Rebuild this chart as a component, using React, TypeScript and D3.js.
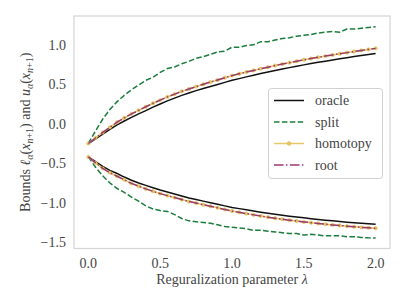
import React from "react";
import * as d3 from "d3";

// lambda grid 0 .. 2 step 0.05
const lambdas = [
  0.0, 0.05, 0.1, 0.15, 0.2, 0.25, 0.3, 0.35, 0.4, 0.45, 0.5, 0.55, 0.6, 0.65,
  0.7, 0.75, 0.8, 0.85, 0.9, 0.95, 1.0, 1.05, 1.1, 1.15, 1.2, 1.25, 1.3, 1.35,
  1.4, 1.45, 1.5, 1.55, 1.6, 1.65, 1.7, 1.75, 1.8, 1.85, 1.9, 1.95, 2.0,
];

const oracleUp = [
  -0.25, -0.19, -0.13, -0.07, -0.015, 0.035, 0.08, 0.125, 0.167, 0.21, 0.25,
  0.29, 0.325, 0.36, 0.39, 0.42, 0.447, 0.473, 0.498, 0.524, 0.55, 0.572,
  0.594, 0.615, 0.636, 0.655, 0.675, 0.693, 0.711, 0.729, 0.746, 0.762, 0.778,
  0.793, 0.808, 0.823, 0.837, 0.851, 0.864, 0.877, 0.89,
];
const oracleLow = [
  -0.42, -0.48, -0.54, -0.59, -0.63, -0.675, -0.715, -0.75, -0.78, -0.81,
  -0.84, -0.865, -0.89, -0.915, -0.94, -0.96, -0.98, -1.0, -1.02, -1.04, -1.06,
  -1.075, -1.09, -1.105, -1.12, -1.133, -1.146, -1.158, -1.17, -1.181, -1.192,
  -1.202, -1.212, -1.221, -1.23, -1.238, -1.246, -1.253, -1.26, -1.266, -1.272,
];

const splitUp = [
  -0.25, -0.09, 0.06, 0.18, 0.28, 0.36, 0.43, 0.49, 0.55, 0.59, 0.65, 0.7,
  0.72, 0.76, 0.79, 0.83, 0.85, 0.88, 0.91, 0.92, 0.97, 0.97, 0.99, 1.0, 1.04,
  1.04, 1.06, 1.08, 1.09, 1.11, 1.12, 1.13, 1.15, 1.16, 1.17, 1.16, 1.2, 1.2,
  1.21, 1.22, 1.23,
];
const splitLow = [
  -0.42, -0.55, -0.66, -0.75, -0.82, -0.87, -0.93, -0.98, -1.04, -1.08, -1.1,
  -1.11, -1.15, -1.2, -1.23, -1.24, -1.25, -1.26, -1.28, -1.3, -1.31, -1.32,
  -1.33, -1.35, -1.35, -1.36, -1.37, -1.38, -1.39, -1.39, -1.41, -1.4, -1.41,
  -1.42, -1.42, -1.42, -1.43, -1.43, -1.44, -1.445, -1.447,
];

const rootUp = [
  -0.25, -0.18, -0.11, -0.045, 0.02, 0.075, 0.125, 0.17, 0.215, 0.26, 0.3,
  0.34, 0.375, 0.41, 0.44, 0.47, 0.5, 0.528, 0.555, 0.583, 0.61, 0.633, 0.655,
  0.676, 0.697, 0.717, 0.737, 0.756, 0.774, 0.792, 0.81, 0.826, 0.842, 0.857,
  0.872, 0.887, 0.901, 0.915, 0.929, 0.942, 0.955,
];
const rootLow = [
  -0.42, -0.495, -0.565, -0.62, -0.665, -0.71, -0.755, -0.79, -0.825, -0.855,
  -0.885, -0.91, -0.935, -0.96, -0.985, -1.005, -1.025, -1.045, -1.065, -1.085,
  -1.105, -1.122, -1.138, -1.154, -1.169, -1.183, -1.196, -1.209, -1.221,
  -1.232, -1.243, -1.253, -1.263, -1.272, -1.281, -1.289, -1.297, -1.305,
  -1.312, -1.318, -1.324,
];

// homotopy follows the root curve
const homotopyUp = rootUp;
const homotopyLow = rootLow;

const xTicks = [0.0, 0.5, 1.0, 1.5, 2.0];
const yTicks = [-1.5, -1.0, -0.5, 0.0, 0.5, 1.0];

const series = [
  { name: "oracle", up: oracleUp, low: oracleLow, color: "#111111", dash: "", marker: false },
  { name: "split", up: splitUp, low: splitLow, color: "#1b7d3c", dash: "5.5,2.4", marker: false },
  { name: "homotopy", up: homotopyUp, low: homotopyLow, color: "#e5c867", dash: "", marker: true },
  { name: "root", up: rootUp, low: rootLow, color: "#9c3a6e", dash: "9.6,2.4,1.5,2.4", marker: false },
];

const W = 407,
  H = 305;
const left = 74,
  top = 16,
  right = 390,
  bottom = 248.5;
const font = "'Liberation Serif', 'Times New Roman', serif";
const textColor = "#444444";

const fmt = (v: number) => d3.format(".1f")(v).replace("-", "\u2212");

export default function App() {
  const x = d3.scaleLinear().domain([-0.1, 2.1]).range([left, right]);
  const y = d3.scaleLinear().domain([-1.58, 1.365]).range([bottom, top]);

  const line = d3
    .line<number>()
    .x((d, i) => x(lambdas[i]))
    .y((d) => y(d));

  return (
    <svg
      width={W}
      height={H}
      style={{ position: "absolute", left: 0, top: 0, background: "#fff" }}
      fontFamily={font}
    >
      {/* 枠 */}
      <rect
        x={left}
        y={top}
        width={right - left}
        height={bottom - top}
        fill="white"
        stroke="#d6d6d6"
        strokeWidth={1.25}
      />

      {/* curves */}
      <g fill="none" strokeWidth={1.5}>
        {series.map((s) => (
          <g key={s.name}>
            {[s.up, s.low].map((arr, k) => (
              <g key={k}>
                <path d={line(arr) || ""} stroke={s.color} strokeDasharray={s.dash} />
                {s.marker &&
                  arr.map((v, i) => (
                    <circle
                      key={i}
                      cx={x(lambdas[i])}
                      cy={y(v)}
                      r={1.7}
                      fill={s.color}
                      stroke="#d9b24a"
                      strokeWidth={0.5}
                    />
                  ))}
              </g>
            ))}
          </g>
        ))}
      </g>

      {/* x ticks */}
      {xTicks.map((t) => (
        <text
          key={t}
          x={x(t)}
          y={268}
          fontSize={14}
          textAnchor="middle"
          fill={textColor}
        >
          {fmt(t)}
        </text>
      ))}
      {/* y ticks */}
      {yTicks.map((t) => (
        <text
          key={t}
          x={66}
          y={y(t)}
          dy="0.35em"
          fontSize={14}
          textAnchor="end"
          fill={textColor}
        >
          {fmt(t)}
        </text>
      ))}

      {/* x label */}
      <text
        x={(left + right) / 2}
        y={284}
        fontSize={14}
        textAnchor="middle"
        fill={textColor}
      >
        Reguralization parameter <tspan fontStyle="italic">λ</tspan>
      </text>

      {/* y label */}
      <text
        transform={`translate(30,${(top + bottom) / 2}) rotate(-90)`}
        fontSize={14}
        textAnchor="middle"
        fill={textColor}
      >
        Bounds <tspan fontStyle="italic">ℓ</tspan>
        <tspan fontStyle="italic" fontSize={10} dy={3}>α</tspan>
        <tspan dy={-3}>(</tspan>
        <tspan fontStyle="italic">x</tspan>
        <tspan fontStyle="italic" fontSize={10} dy={3}>n</tspan>
        <tspan fontSize={10}>+1</tspan>
        <tspan dy={-3}>) and </tspan>
        <tspan fontStyle="italic">u</tspan>
        <tspan fontStyle="italic" fontSize={10} dy={3}>α</tspan>
        <tspan dy={-3}>(</tspan>
        <tspan fontStyle="italic">x</tspan>
        <tspan fontStyle="italic" fontSize={10} dy={3}>n</tspan>
        <tspan fontSize={10}>+1</tspan>
        <tspan dy={-3}>)</tspan>
      </text>

      {/* legend */}
      <g>
        <rect
          x={268.5}
          y={88.5}
          width={114}
          height={90}
          rx={3}
          fill="white"
          fillOpacity={0.85}
          stroke="#d0d0d0"
          strokeWidth={1}
        />
        {series.map((s, i) => {
          const ly = 100.5 + i * 21.5;
          return (
            <g key={s.name}>
              <line
                x1={274}
                x2={304}
                y1={ly}
                y2={ly}
                stroke={s.color}
                strokeWidth={1.5}
                strokeDasharray={s.dash}
              />
              {s.marker && (
                <circle cx={289} cy={ly} r={1.9} fill={s.color} stroke="#d9b24a" strokeWidth={0.5} />
              )}
              <text x={315} y={ly} dy="0.33em" fontSize={14} fill={textColor}>
                {s.name}
              </text>
            </g>
          );
        })}
      </g>
    </svg>
  );
}
